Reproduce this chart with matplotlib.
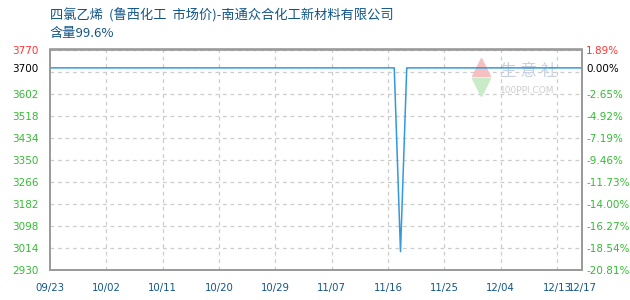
import matplotlib
matplotlib.use("Agg")
import matplotlib.pyplot as plt
import numpy as np
from datetime import datetime, timedelta

plt.rcParams['font.family'] = ['Noto Sans CJK SC', 'DejaVu Sans']

title_text = "四氯乙烯  (鲁西化工  市场价)-南通众合化工新材料有限公司"
sub_text = "含量99.6%"

# price points
dates = ["2019-09-23", "2019-11-17", "2019-11-18", "2019-11-19", "2019-12-17"]
prices = [3700, 3700, 3000, 3700, 3700]

base_price = 3700
y_top = 3770
y_bottom = 2930
grid_step = 84
ytick_vals = [3770, 3700, 3602, 3518, 3434, 3350, 3266, 3182, 3098, 3014, 2930]

start = datetime(2019, 9, 23)
end = datetime(2019, 12, 17)
xtick_dates = [start + timedelta(days=9 * i) for i in range(10)] + [end]

green = "#33bb33"
red = "#ff3333"
blue_txt = "#115588"
line_col = "#3399dd"

fig = plt.figure(figsize=(6.3, 3.0), dpi=100)
ax = fig.add_axes([50 / 630, 30 / 300, 532 / 630, 220.5 / 300])

xs = [datetime.strptime(d, "%Y-%m-%d") for d in dates]
ax.plot(xs, prices, color=line_col, lw=1.1, zorder=3)

ax.set_xlim(start, end)
ax.set_ylim(y_bottom, y_top)

# evenly spaced horizontal grid
for g in np.arange(y_bottom, y_top + 1, grid_step):
    ax.axhline(g, color="#cccccc", lw=0.9, ls=(0, (3, 3)), zorder=1)
for d in xtick_dates[1:-1]:
    ax.axvline(d, color="#cccccc", lw=0.9, ls=(0, (3, 3)), zorder=1)

ax.set_xticks(xtick_dates)
ax.set_xticklabels([d.strftime("%m/%d") for d in xtick_dates], color=blue_txt,
                   fontsize=7.3, family="DejaVu Sans")
ax.tick_params(axis="x", length=0, pad=9)

def label_color(v):
    if v > base_price:
        return red
    if v == base_price:
        return "black"
    return green

ax.set_yticks(ytick_vals)
ax.set_yticklabels([str(v) for v in ytick_vals], fontsize=7.5, family="DejaVu Sans")
for lab, v in zip(ax.get_yticklabels(), ytick_vals):
    lab.set_color(label_color(v))
ax.tick_params(axis="y", length=0, pad=8)

ax2 = ax.twinx()
ax2.set_ylim(y_bottom, y_top)
ax2.set_yticks(ytick_vals)
ax2.set_yticklabels(["%.2f%%" % ((v / base_price - 1) * 100) for v in ytick_vals],
                    fontsize=7.5, family="DejaVu Sans")
for lab, v in zip(ax2.get_yticklabels(), ytick_vals):
    lab.set_color(label_color(v))
ax2.tick_params(axis="y", length=0, pad=3)

for a in (ax, ax2):
    for s in a.spines.values():
        s.set_color("#999999")
        s.set_linewidth(1.2)

# watermark
ax.plot([0.81], [0.92], marker="^", ms=13, color="#f6c0c0", transform=ax.transAxes,
        clip_on=False, zorder=2)
ax.plot([0.81], [0.83], marker="v", ms=13, color="#c8ecc8", transform=ax.transAxes,
        clip_on=False, zorder=2)
ax.text(0.845, 0.9, "生 意 社", transform=ax.transAxes, fontsize=12, color="#c8d0e0",
        va="center", zorder=2)
ax.text(0.845, 0.815, "100PPI.COM", transform=ax.transAxes, fontsize=6.5, color="#cccccc",
        va="center", family="DejaVu Sans", zorder=2)

fig.text(50 / 630, 1 - 15 / 300, title_text, fontsize=9.5, color=blue_txt, va="center")
fig.text(50 / 630, 1 - 34 / 300, sub_text, fontsize=9.5, color=blue_txt, va="center")

fig.savefig("out.png", dpi=100)
